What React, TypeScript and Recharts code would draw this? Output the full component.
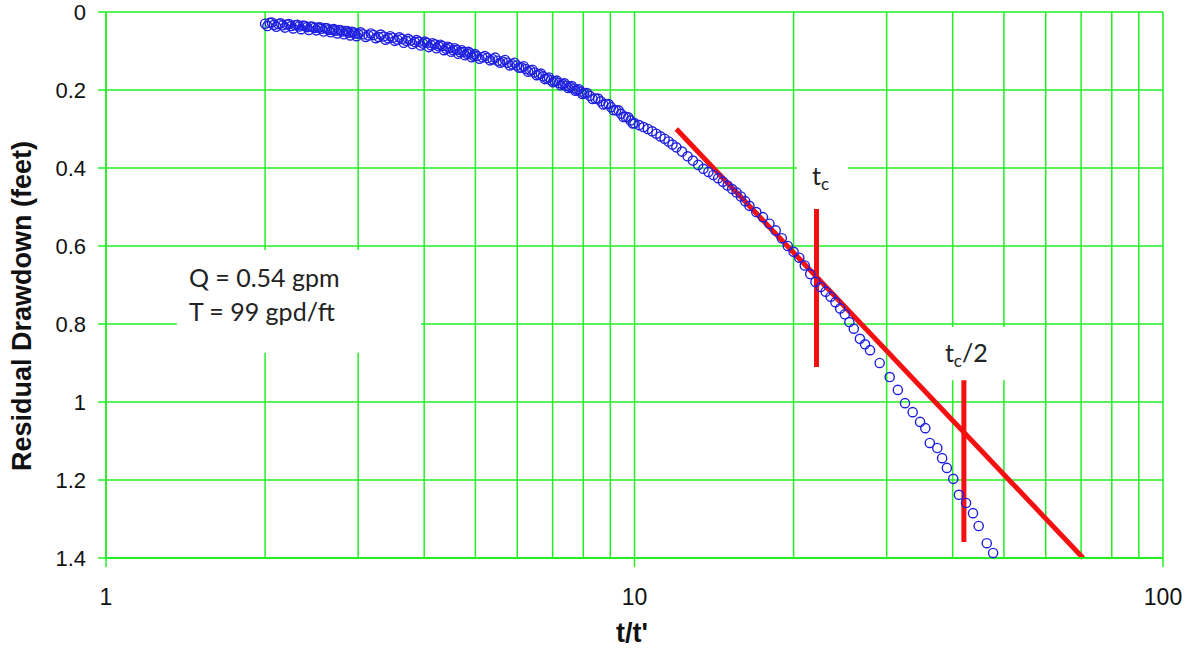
import {
  ScatterChart,
  Scatter,
  XAxis,
  YAxis,
  CartesianGrid,
  ReferenceLine,
  ReferenceArea,
  Label,
} from 'recharts'

// recovery data, t/t' vs residual drawdown (ft)
const tRatio = [
  2.0, 2.04, 2.08, 2.12, 2.16, 2.2, 2.24, 2.28, 2.32, 2.36, 2.4, 2.44, 2.48, 2.52, 2.56, 2.6,
  2.64, 2.68, 2.72, 2.76, 2.8, 2.84, 2.88, 2.92, 2.96, 3.0, 3.07, 3.14, 3.21, 3.28, 3.35, 3.42,
  3.49, 3.56, 3.63, 3.7, 3.77, 3.84, 3.91, 3.98, 4.05, 4.12, 4.19, 4.26, 4.33, 4.4, 4.47, 4.54,
  4.61, 4.68, 4.75, 4.82, 4.89, 4.96, 5.03, 5.15, 5.27, 5.39, 5.51, 5.63, 5.75, 5.87, 5.99, 6.11,
  6.23, 6.35, 6.47, 6.59, 6.71, 6.83, 6.95, 7.07, 7.19, 7.31, 7.43, 7.55, 7.67, 7.79, 7.91, 8.03,
  8.23, 8.43, 8.63, 8.83, 9.03, 9.23, 9.43, 9.63, 9.83, 10.0, 10.2, 10.4, 10.6, 10.8, 11.0, 11.2,
  11.4, 11.6, 11.8, 12.0, 12.3, 12.6, 12.9, 13.2, 13.5, 13.8, 14.1, 14.4, 14.7, 15.0, 15.3, 15.6,
  15.9, 16.2, 16.5, 17.0, 17.5, 18.0, 18.5, 19.0, 19.5, 20.0, 20.5, 21.0, 21.5, 22.0, 22.5, 23.0,
  23.5, 24.0, 24.5, 25.0, 25.5, 26.0, 26.7, 27.3, 27.9, 29.1, 30.4, 31.5, 32.5, 33.6, 34.7, 35.5,
  36.2, 37.4, 38.2, 39.0, 40.1, 41.1, 42.4, 43.7, 44.8, 46.4, 47.7,
]
const drawdown = [
  0.03, 0.028, 0.033, 0.031, 0.034, 0.032, 0.036, 0.034, 0.037, 0.035, 0.039, 0.037, 0.041, 0.04, 0.043, 0.041,
  0.046, 0.045, 0.048, 0.046, 0.05, 0.049, 0.053, 0.051, 0.055, 0.056, 0.057, 0.06, 0.059, 0.064, 0.063, 0.067,
  0.066, 0.071, 0.069, 0.074, 0.073, 0.077, 0.076, 0.081, 0.079, 0.085, 0.083, 0.088, 0.087, 0.094, 0.092, 0.098,
  0.097, 0.103, 0.102, 0.107, 0.106, 0.112, 0.113, 0.116, 0.118, 0.121, 0.125, 0.127, 0.13, 0.134, 0.137, 0.142,
  0.146, 0.15, 0.155, 0.16, 0.165, 0.17, 0.175, 0.178, 0.182, 0.185, 0.189, 0.192, 0.196, 0.2, 0.204, 0.208,
  0.215, 0.222, 0.229, 0.236, 0.244, 0.252, 0.261, 0.269, 0.278, 0.285, 0.29, 0.295, 0.3, 0.306, 0.312, 0.319,
  0.325, 0.332, 0.34, 0.347, 0.358, 0.37, 0.381, 0.392, 0.402, 0.41, 0.418, 0.426, 0.435, 0.445, 0.454, 0.463,
  0.473, 0.485, 0.497, 0.513, 0.526, 0.543, 0.56, 0.58, 0.6, 0.615, 0.63, 0.65, 0.672, 0.692, 0.705, 0.717,
  0.73, 0.744, 0.76, 0.775, 0.795, 0.812, 0.838, 0.852, 0.867, 0.9, 0.936, 0.969, 1.003, 1.026, 1.051, 1.067,
  1.105, 1.118, 1.144, 1.169, 1.197, 1.238, 1.259, 1.285, 1.318, 1.362, 1.387,
]

// extra readings in the dense early part (scatter between the logger samples)
const tRatioB = [
  2.02, 2.06, 2.1, 2.14, 2.18, 2.22, 2.26, 2.3, 2.34, 2.38, 2.42, 2.46, 2.5, 2.54, 2.58, 2.62,
  2.66, 2.7, 2.74, 2.78, 2.82, 2.86, 2.9, 2.94, 2.98, 3.03, 3.1, 3.17, 3.24, 3.31, 3.38, 3.45,
  3.52, 3.59, 3.66, 3.73, 3.8, 3.87, 3.94, 4.01, 4.08, 4.15, 4.22, 4.29, 4.36, 4.43, 4.5, 4.57,
  4.64, 4.71, 4.78, 4.85, 4.92, 4.99, 5.09, 5.21, 5.33, 5.45, 5.57, 5.69, 5.81, 5.93, 6.05, 6.17,
  6.29, 6.41, 6.53, 6.65, 6.77, 6.89, 7.01, 7.13, 7.25, 7.37, 7.49, 7.61, 7.73, 7.85, 7.97, 8.13,
  8.33, 8.53, 8.73, 8.93, 9.13, 9.33, 9.53, 9.73, 9.93,
]
const drawdownB = [
  0.036, 0.027, 0.038, 0.029, 0.04, 0.031, 0.042, 0.033, 0.044, 0.036, 0.046, 0.038, 0.047, 0.039, 0.05, 0.042,
  0.052, 0.044, 0.055, 0.047, 0.057, 0.049, 0.06, 0.052, 0.062, 0.052, 0.064, 0.055, 0.067, 0.058, 0.071, 0.062,
  0.074, 0.065, 0.079, 0.069, 0.082, 0.072, 0.086, 0.076, 0.09, 0.08, 0.093, 0.084, 0.098, 0.089, 0.102, 0.093,
  0.107, 0.098, 0.111, 0.102, 0.116, 0.108, 0.12, 0.113, 0.124, 0.117, 0.13, 0.123, 0.137, 0.13, 0.143, 0.139,
  0.153, 0.148, 0.162, 0.158, 0.172, 0.168, 0.18, 0.176, 0.188, 0.183, 0.195, 0.19, 0.202, 0.198, 0.21, 0.208,
  0.223, 0.222, 0.237, 0.236, 0.252, 0.252, 0.269, 0.27, 0.286,
]

// straight-line fit and the tc, tc/2 markers
const fitT = [12.0, 70.6]
const fitS = [0.3, 1.4]
const tcT = 22.1
const tcS = [0.505, 0.91]
const tc2T = 42.0
const tc2S = [0.944, 1.359]

const xTicks = [1, 2, 3, 4, 5, 6, 7, 8, 9, 10, 20, 30, 40, 50, 60, 70, 80, 90, 100]
const xLabels = [1, 10, 100]
const yTicks = [0, 0.2, 0.4, 0.6, 0.8, 1.0, 1.2, 1.4]

const points = [
  ...tRatio.map((t, i) => ({ t, s: drawdown[i] })),
  ...tRatioB.map((t, i) => ({ t, s: drawdownB[i] })),
]

const GREEN = '#22ee22'
const BLUE = '#1f1fe0'
const RED = '#f41010'
const AXIS_FONT = '"Liberation Sans", Arial, sans-serif'
const NOTE_FONT = 'Lato, "Noto Sans", sans-serif'

function XTick({ x, y, payload }: any) {
  if (!xLabels.includes(payload.value)) return null
  return (
    <g>
      <line x1={x} x2={x} y1={y} y2={y + 9} stroke={GREEN} strokeWidth={1.5} />
      <text x={x} y={y + 47} textAnchor="middle" fontSize={23} fontFamily={AXIS_FONT} fill="#111">
        {payload.value}
      </text>
    </g>
  )
}

function YTick({ x, y, payload }: any) {
  return (
    <text x={x} y={y} dy={8} textAnchor="end" fontSize={22} fontFamily={AXIS_FONT} fill="#111">
      {String(Number(Number(payload.value).toFixed(1)))}
    </text>
  )
}

function Ring(props: any) {
  return <circle cx={props.cx} cy={props.cy} r={4.6} fill="none" stroke={BLUE} strokeWidth={1.4} />
}

function NoteQT({ viewBox }: any) {
  const { x, y } = viewBox
  return (
    <text fontSize={25} fontFamily={NOTE_FONT} fill="#222">
      <tspan x={x + 12} y={y + 37}>Q = 0.54 gpm</tspan>
      <tspan x={x + 12} y={y + 71}>T = 99 gpd/ft</tspan>
    </text>
  )
}

function NoteTc({ viewBox, half }: any) {
  const { x, y } = viewBox
  return (
    <text x={x + (half ? 7 : 15)} y={y + 35} fontSize={25} fontFamily={NOTE_FONT} fill="#222">
      t
      <tspan fontSize={17} dy={5}>c</tspan>
      {half && <tspan dy={-5}>/2</tspan>}
    </text>
  )
}

export default function App() {
  return (
    <div style={{ position: 'absolute', top: 0, left: 0, width: 1192, height: 648 }}>
      <ScatterChart
        width={1192}
        height={648}
        margin={{ top: 12, right: 29, bottom: 30, left: 0 }}
        style={{ overflow: 'visible' }}
      >
        <CartesianGrid stroke={GREEN} strokeWidth={1.5} />
        <XAxis
          dataKey="t"
          type="number"
          scale="log"
          domain={[1, 100]}
          ticks={xTicks}
          interval={0}
          allowDataOverflow
          height={60}
          axisLine={{ stroke: GREEN, strokeWidth: 2 }}
          tickLine={false}
          tickSize={0}
          tickMargin={0}
          tick={<XTick />}
        >
          <Label
            content={() => (
              <text x={632} y={633} textAnchor="middle" dominantBaseline="central" fontSize={27} fontWeight="bold" fontFamily={AXIS_FONT} fill="#111">
                t/t'
              </text>
            )}
          />
        </XAxis>
        <YAxis
          dataKey="s"
          type="number"
          reversed
          domain={[0, 1.4]}
          ticks={yTicks}
          interval={0}
          width={106}
          axisLine={{ stroke: GREEN, strokeWidth: 1.5 }}
          tickLine={{ stroke: GREEN, strokeWidth: 1.5 }}
          tickSize={8}
          tickMargin={12}
          tick={<YTick />}
        >
          <Label
            content={() => (
              <text x={22} y={306} transform="rotate(-90 22 306)" textAnchor="middle" dominantBaseline="central" fontSize={27} fontWeight="bold" fontFamily={AXIS_FONT} fill="#111">
                Residual Drawdown (feet)
              </text>
            )}
          />
        </YAxis>

        <ReferenceArea x1={1.362} x2={3.945} y1={0.61} y2={0.874} fill="#fff" fillOpacity={1} stroke="none" label={<NoteQT />} />
        <ReferenceArea x1={20.3} x2={25.35} y1={0.354} y2={0.495} fill="#fff" fillOpacity={1} stroke="none" label={<NoteTc />} />
        <ReferenceArea x1={37.5} x2={51.8} y1={0.808} y2={0.944} fill="#fff" fillOpacity={1} stroke="none" label={<NoteTc half />} />

        <Scatter data={points} shape={<Ring />} isAnimationActive={false} />

        <ReferenceLine
          segment={[{ x: fitT[0], y: fitS[0] }, { x: fitT[1], y: fitS[1] }]}
          stroke={RED}
          strokeWidth={5}
        />
        <ReferenceLine segment={[{ x: tcT, y: tcS[0] }, { x: tcT, y: tcS[1] }]} stroke={RED} strokeWidth={5} />
        <ReferenceLine segment={[{ x: tc2T, y: tc2S[0] }, { x: tc2T, y: tc2S[1] }]} stroke={RED} strokeWidth={5} />
      </ScatterChart>
    </div>
  )
}
